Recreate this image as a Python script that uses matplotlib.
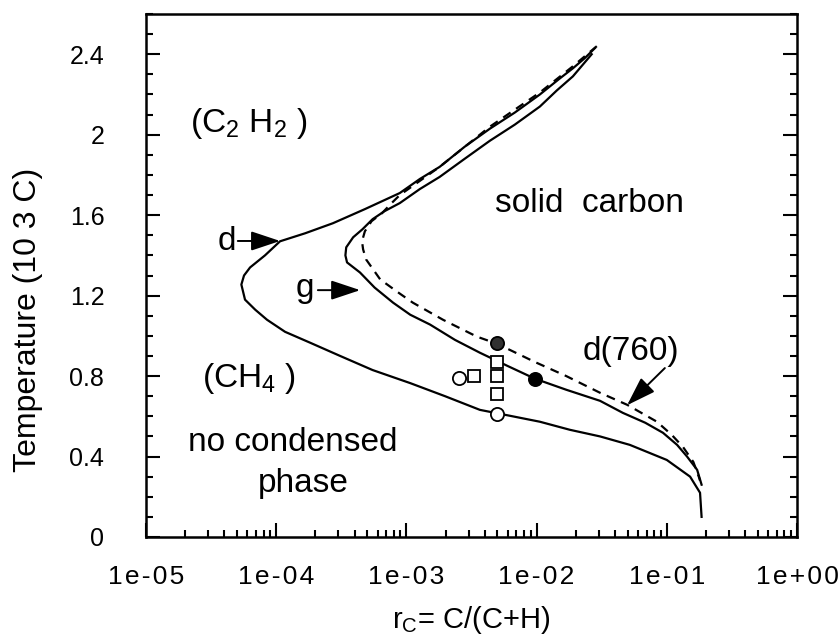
import matplotlib
matplotlib.use("Agg")
import matplotlib.pyplot as plt
from matplotlib.ticker import LogLocator, MultipleLocator, NullFormatter

plt.rcParams['font.family'] = ['Liberation Sans', 'DejaVu Sans']
plt.rcParams['mathtext.fontset'] = 'custom'
plt.rcParams['mathtext.rm'] = 'Liberation Sans'
plt.rcParams['mathtext.it'] = 'Liberation Sans:italic'

# curve d (solid, outer)
d_x = [0.028, 0.0234, 0.019, 0.0151, 0.0106, 0.0068, 0.00438, 0.0028, 0.0018, 1.27e-3,
       8.9e-4, 4.8e-4, 2.73e-4, 1.67e-4, 1.07e-4, 8.2e-5, 6.3e-5, 5.66e-5, 5.4e-5, 5.76e-5,
       6.9e-5, 8.5e-5, 1.17e-4, 1.82e-4, 3.1e-4, 5.5e-4, 1.07e-3, 1.98e-3, 3.67e-3, 6.2e-3,
       0.0106, 0.018, 0.0307, 0.052, 0.1, 0.151, 0.18, 0.185]
d_y = [2.43, 2.38, 2.33, 2.28, 2.20, 2.11, 2.03, 1.94, 1.84, 1.78,
       1.71, 1.63, 1.56, 1.51, 1.47, 1.40, 1.34, 1.30, 1.255, 1.18,
       1.13, 1.08, 1.02, 0.966, 0.90, 0.83, 0.765, 0.70, 0.632, 0.603,
       0.573, 0.533, 0.50, 0.458, 0.383, 0.30, 0.22, 0.10]
# curve g (solid, inner)
g_x = [0.0265, 0.019, 0.0143, 0.0106, 0.0068, 0.00438, 0.0028, 0.0018, 1.27e-3, 8.9e-4,
       6.8e-4, 5.5e-4, 4.6e-4, 3.9e-4, 3.45e-4, 3.4e-4, 3.5e-4, 4.4e-4, 5.7e-4, 7.9e-4,
       1.07e-3, 1.52e-3, 2.36e-3, 3.67e-3, 6.0e-3, 0.0097, 0.0169, 0.0307, 0.046, 0.0683,
       0.0935, 0.12, 0.143, 0.171, 0.185]
g_y = [2.40, 2.29, 2.22, 2.14, 2.05, 1.97, 1.88, 1.79, 1.73, 1.66,
       1.62, 1.58, 1.53, 1.49, 1.44, 1.40, 1.365, 1.315, 1.24, 1.165,
       1.105, 1.056, 0.98, 0.916, 0.85, 0.787, 0.732, 0.677, 0.617, 0.568,
       0.518, 0.458, 0.40, 0.334, 0.26]
# curve d(760) (dashed)
d760_x = [0.029, 0.019, 0.0106, 0.00438, 0.0018, 8.9e-4, 7.7e-4, 6.5e-4, 5.4e-4, 4.8e-4,
          4.56e-4, 4.65e-4, 4.9e-4, 6.3e-4, 8.9e-4, 1.12e-3, 1.91e-3, 3.48e-3, 0.005, 0.0097,
          0.0169, 0.0307, 0.0497, 0.084, 0.109, 0.133, 0.16, 0.176, 0.18]
d760_y = [2.44, 2.34, 2.21, 2.04, 1.84, 1.70, 1.66, 1.61, 1.57, 1.52,
          1.47, 1.43, 1.38, 1.28, 1.21, 1.165, 1.08, 0.996, 0.96, 0.87,
          0.80, 0.717, 0.657, 0.573, 0.508, 0.448, 0.373, 0.30, 0.28]

# experimental points
open_circ_x = [0.00254, 0.005]
open_circ_y = [0.79, 0.61]
open_sq_x = [0.0033, 0.005, 0.005, 0.005]
open_sq_y = [0.80, 0.87, 0.80, 0.71]
filled_circ_x = [0.005, 0.0097]
filled_circ_y = [0.966, 0.787]

HS = '\u200a'
xticks = [1e-5, 1e-4, 1e-3, 1e-2, 1e-1, 1e0]
xticklabels = [HS.join(s) for s in ['1e-05', '1e-04', '1e-03', '1e-02', '1e-01', '1e+00']]
yticks = [0, 0.4, 0.8, 1.2, 1.6, 2, 2.4]
yticklabels = ['0', '0.4', '0.8', '1.2', '1.6', '2', '2.4']

fig = plt.figure(figsize=(8.4, 6.42), dpi=100)
ax = fig.add_axes([146/840, 1-537/642, 651/840, 523/642])

lw = 1.6
ax.plot(d_x, d_y, color='black', lw=lw, solid_joinstyle='round')
ax.plot(g_x, g_y, color='black', lw=lw, solid_joinstyle='round')
ax.plot(d760_x, d760_y, color='black', lw=lw, linestyle=(0, (4, 3)))

ax.plot(open_circ_x, open_circ_y, 'o', ms=9.5, mfc='white', mec='black', mew=1.3)
ax.plot(open_sq_x, open_sq_y, 's', ms=8, mfc='white', mec='black', mew=1.3)
ax.plot(filled_circ_x[:1], filled_circ_y[:1], 'o', ms=9.5, mfc='#303030', mec='black', mew=1.3)
ax.plot(filled_circ_x[1:], filled_circ_y[1:], 'o', ms=9.5, mfc='black', mec='black', mew=1.3)

ax.set_xscale('log')
ax.set_xlim(1e-5, 1)
ax.set_ylim(0, 2.6)
ax.set_xticks(xticks)
ax.set_xticklabels(xticklabels, fontsize=19)
ax.xaxis.set_minor_locator(LogLocator(base=10, subs=range(2, 10), numticks=20))
ax.xaxis.set_minor_formatter(NullFormatter())
ax.set_yticks(yticks)
ax.set_yticklabels(yticklabels, fontsize=18)
ax.yaxis.set_minor_locator(MultipleLocator(0.1))

ax.tick_params(which='both', direction='in', top=False, right=True, width=1.5)
ax.tick_params(which='major', length=10)
ax.tick_params(which='minor', length=5)
ax.tick_params(axis='y', pad=30)
ax.tick_params(axis='x', pad=20)
for s in ax.spines.values():
    s.set_linewidth(1.8)

ax.set_ylabel('Temperature (10 3 C)', fontsize=23)
ax.yaxis.set_label_coords(-0.158, 0.415)
ax.set_xlabel(r'r$\mathregular{_C}$= C/(C+H)', fontsize=21)
ax.xaxis.set_label_coords(0.5, -0.128)

fs = 24
tr = ax.transAxes
ax.text(0.068, 0.774, r'(C$\mathregular{_2}$ H$\mathregular{_2}$ )', transform=tr,
        fontsize=fs, va='baseline', ha='left')
ax.text(0.536, 0.621, 'solid  carbon', transform=tr, fontsize=fs, va='baseline', ha='left')
ax.text(0.086, 0.287, r'(CH$\mathregular{_4}$ )', transform=tr, fontsize=fs, va='baseline', ha='left')
ax.text(0.0645, 0.164, 'no condensed', transform=tr, fontsize=fs, va='baseline', ha='left')
ax.text(0.172, 0.086, 'phase', transform=tr, fontsize=fs, va='baseline', ha='left')
ax.text(0.671, 0.338, 'd(760)', transform=tr, fontsize=fs, va='baseline', ha='left')
ax.text(0.1236, 0.549, 'd', transform=tr, fontsize=fs, va='baseline', ha='center')
ax.text(0.244, 0.459, 'g', transform=tr, fontsize=fs, va='baseline', ha='center')

arrow = dict(arrowstyle='-|>,head_length=0.9,head_width=0.3', color='black', lw=1.4,
             mutation_scale=20, shrinkA=0, shrinkB=0)
for (x0, y0), (x1, y1) in [((0.141, 0.566), (0.206, 0.566)),
                           ((0.264, 0.472), (0.329, 0.472)),
                           ((0.797, 0.323), (0.739, 0.252))]:
    ax.annotate('', xy=(x1, y1), xytext=(x0, y0), xycoords='axes fraction',
                textcoords='axes fraction', arrowprops=arrow)

fig.savefig('out.png', dpi=100)
